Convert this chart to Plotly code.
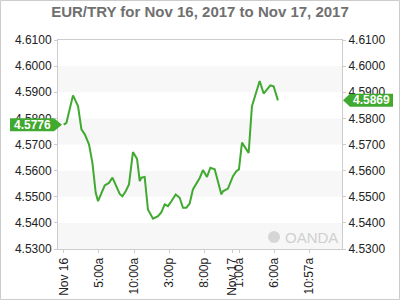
import plotly.graph_objects as go

# ---- data ----
times = [
    "2017-11-16 00:00", "2017-11-16 00:23", "2017-11-16 01:19", "2017-11-16 02:02",
    "2017-11-16 02:31", "2017-11-16 03:00", "2017-11-16 03:36", "2017-11-16 04:05",
    "2017-11-16 04:33", "2017-11-16 04:53", "2017-11-16 05:50", "2017-11-16 06:26",
    "2017-11-16 06:56", "2017-11-16 07:24", "2017-11-16 07:58", "2017-11-16 08:21",
    "2017-11-16 08:49", "2017-11-16 09:17", "2017-11-16 09:51", "2017-11-16 10:26",
    "2017-11-16 10:49", "2017-11-16 11:03", "2017-11-16 11:31", "2017-11-16 11:59",
    "2017-11-16 12:42", "2017-11-16 13:25", "2017-11-16 13:54", "2017-11-16 14:22",
    "2017-11-16 14:50", "2017-11-16 15:19", "2017-11-16 15:56", "2017-11-16 16:30",
    "2017-11-16 16:58", "2017-11-16 17:27", "2017-11-16 17:55", "2017-11-16 18:23",
    "2017-11-16 18:53", "2017-11-16 19:21", "2017-11-16 19:49", "2017-11-16 20:23",
    "2017-11-16 20:52", "2017-11-16 21:29", "2017-11-16 22:26", "2017-11-16 22:40",
    "2017-11-16 23:22", "2017-11-17 00:05", "2017-11-17 00:34", "2017-11-17 00:56",
    "2017-11-17 01:22", "2017-11-17 01:51", "2017-11-17 02:19", "2017-11-17 02:47",
    "2017-11-17 03:19", "2017-11-17 03:53", "2017-11-17 04:27", "2017-11-17 05:24",
    "2017-11-17 05:52", "2017-11-17 06:29",
]
rates = [
    4.5776, 4.5783, 4.5888, 4.5847,
    4.5758, 4.5739, 4.5700, 4.5630,
    4.5515, 4.5483, 4.5543, 4.5553,
    4.5573, 4.5547, 4.5511, 4.5502,
    4.5521, 4.5547, 4.5671, 4.5645,
    4.5560, 4.5573, 4.5576, 4.5451,
    4.5416, 4.5426, 4.5441, 4.5471,
    4.5464, 4.5483, 4.5509, 4.5496,
    4.5458, 4.5458, 4.5474, 4.5528,
    4.5553, 4.5572, 4.5602, 4.5576,
    4.5611, 4.5605, 4.5509, 4.5521,
    4.5531, 4.5579, 4.5598, 4.5605,
    4.5707, 4.5688, 4.5668, 4.5847,
    4.5898, 4.5943, 4.5895, 4.5926,
    4.5923, 4.5869,
]
open_label = "4.5776"
last_label = "4.5869"
open_value = 4.5776
last_value = 4.5869

tick_times = ["2017-11-16 00:00", "2017-11-16 05:00", "2017-11-16 10:00",
              "2017-11-16 15:00", "2017-11-16 20:00", "2017-11-17 00:00",
              "2017-11-17 01:00", "2017-11-17 06:00", "2017-11-17 10:57"]
tick_text = ["Nov 16", "5:00a", "10:00a", "3:00p", "8:00p", "Nov 17",
             "1:00a", "6:00a", "10:57a"]
y_ticks = [4.53, 4.54, 4.55, 4.56, 4.57, 4.58, 4.59, 4.60, 4.61]
y_range = [4.53, 4.61]
x_range = ["2017-11-15 23:11", "2017-11-17 15:36"]
title = "EUR/TRY for Nov 16, 2017 to Nov 17, 2017"

GREEN = "#3fa930"
W, H = 400, 300
ML, MR, MT, MB = 58, 58, 40, 51
PW, PH = W - ML - MR, H - MT - MB

fig = go.Figure()
fig.add_trace(go.Scatter(x=times, y=rates, mode="lines",
                         line=dict(color=GREEN, width=2), hoverinfo="skip",
                         showlegend=False))
fig.add_trace(go.Scatter(x=times, y=rates, mode="lines", yaxis="y2",
                         line=dict(color="rgba(0,0,0,0)", width=0),
                         hoverinfo="skip", showlegend=False))

shapes = []
# alternating bands
for i in range(len(y_ticks) - 1):
    if i % 2 == 0:
        shapes.append(dict(type="rect", xref="paper", yref="y", x0=0, x1=1,
                           y0=y_ticks[i], y1=y_ticks[i + 1],
                           fillcolor="#f7f7f7", line=dict(width=0), layer="below"))
# outer border of image
shapes.append(dict(type="rect", xref="paper", yref="paper",
                   x0=(0.5 - ML) / PW, x1=(W - 0.5 - ML) / PW,
                   y0=-(MB - 0.5) / PH, y1=1 + (MT - 0.5) / PH,
                   line=dict(color="#cccccc", width=1), layer="above"))
# left value label
shapes.append(dict(type="path", xref="paper", yref="y", xsizemode="pixel",
                   ysizemode="pixel", xanchor=0, yanchor=open_value,
                   path="M -48,-6.5 L -4,-6.5 L 4,0 L -4,6.5 L -48,6.5 Z",
                   fillcolor=GREEN, line=dict(width=0), layer="above"))
# right value label
shapes.append(dict(type="path", xref="paper", yref="y", xsizemode="pixel",
                   ysizemode="pixel", xanchor=1, yanchor=last_value,
                   path="M 1,0 L 8,-6.5 L 51,-6.5 L 51,6.5 L 8,6.5 Z",
                   fillcolor=GREEN, line=dict(width=0), layer="above"))
# OANDA logo circle
shapes.append(dict(type="circle", xref="paper", yref="paper", xsizemode="pixel",
                   ysizemode="pixel", xanchor=(274 - ML) / PW,
                   yanchor=1 - (237 - MT) / PH,
                   x0=-6, x1=6, y0=-6, y1=6,
                   fillcolor="#d6d6d6", line=dict(width=0), layer="below"))

annotations = [
    dict(text=open_label, xref="paper", yref="y", x=0, y=open_value,
         xshift=-26, showarrow=False, xanchor="center", yanchor="middle",
         font=dict(family="Liberation Sans, Arial", size=12, color="white",
                   weight="bold")),
    dict(text=last_label, xref="paper", yref="y", x=1, y=last_value,
         xshift=29.5, showarrow=False, xanchor="center", yanchor="middle",
         font=dict(family="Liberation Sans, Arial", size=12, color="white",
                   weight="bold")),
    dict(text="OANDA", xref="paper", yref="paper", x=(283 - ML) / PW,
         y=1 - (237 - MT) / PH, showarrow=False, xanchor="left",
         yanchor="middle",
         font=dict(family="Liberation Sans, Arial", size=15, color="#d0d0d0")),
]

axis_font = dict(family="Liberation Sans, Arial", size=12, color="#222222")

fig.update_layout(
    width=W, height=H, margin=dict(l=ML, r=MR, t=MT, b=MB, autoexpand=False),
    paper_bgcolor="white", plot_bgcolor="white",
    title=dict(text=title, x=0.5, xref="paper", xanchor="center",
               y=1 - 12 / H, yanchor="middle",
               font=dict(family="Liberation Sans, Arial", size=15,
                         color="#707070", weight="bold")),
    xaxis=dict(type="date", range=x_range, tickvals=tick_times,
               ticktext=tick_text, tickangle=-90, showgrid=False,
               zeroline=False, showline=True, linecolor="#cccccc",
               linewidth=1, mirror=True, ticks="outside", ticklen=3,
               tickcolor="#cccccc", tickfont=axis_font, automargin=False),
    yaxis=dict(range=y_range, tickvals=y_ticks,
               ticktext=[f"{v:.4f}" for v in y_ticks], showgrid=False,
               zeroline=False, showline=True, linecolor="#cccccc",
               linewidth=1, mirror=True, ticks="outside", ticklen=3,
               tickcolor="#cccccc", tickfont=axis_font, automargin=False),
    yaxis2=dict(range=y_range, tickvals=y_ticks,
                ticktext=[f"{v:.4f}" for v in y_ticks], overlaying="y",
                side="right", showgrid=False, zeroline=False, showline=False,
                ticks="outside", ticklen=3, tickcolor="#cccccc",
                tickfont=axis_font, automargin=False),
    shapes=shapes, annotations=annotations, showlegend=False,
)

fig.write_html("out.html")
